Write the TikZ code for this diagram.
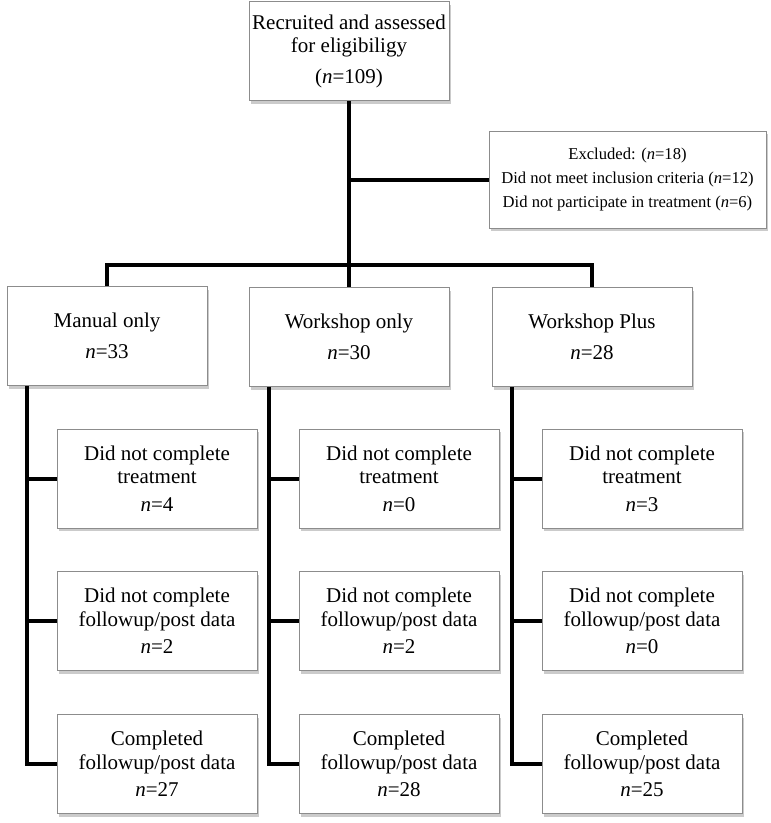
\documentclass[tikz,border=0pt]{standalone}
\usepackage{fontspec}
\setmainfont{Liberation Serif}
\usetikzlibrary{shadows}

\tikzset{
  box/.style={draw=black!45,line width=0.8pt,fill=white,align=center,
    minimum width=200pt,minimum height=99pt,inner sep=2pt,
    drop shadow={shadow xshift=1.5pt,shadow yshift=-3pt,opacity=0.45,fill=black!45},
    font=\fontsize{21}{23.5}\selectfont},
  link/.style={line width=4pt,black},
}

\begin{document}
\begin{tikzpicture}[x=1pt,y=-1pt]
\useasboundingbox (0,0) rectangle (771,823);
% enrolment
\node[box] (top) at (349,51) {Recruited and assessed\\for eligibiligy\\[7pt](\textit{n}=109)};
\node[box,minimum width=277pt,minimum height=97pt,font=\fontsize{16.6}{24}\selectfont] (excl) at (627.5,179.5)
  {Excluded: (\textit{n}=18)\\Did not meet inclusion criteria (\textit{n}=12)\\Did not participate in treatment (\textit{n}=6)};
% groups
\node[box] (man) at (107,336) {Manual only\\[7pt]\textit{n}=33};
\node[box] (wks) at (349,337) {Workshop only\\[7pt]\textit{n}=30};
\node[box] (plus) at (592,337) {Workshop Plus\\[7pt]\textit{n}=28};
% outcomes
\node[box] (man1) at (157,478.5) {Did not complete\\treatment\\[4pt]\textit{n}=4};
\node[box] (man2) at (157,621) {Did not complete\\followup/post data\\[4pt]\textit{n}=2};
\node[box] (man3) at (157,764) {Completed\\followup/post data\\[4pt]\textit{n}=27};
\node[box] (wks1) at (399,478.5) {Did not complete\\treatment\\[4pt]\textit{n}=0};
\node[box] (wks2) at (399,621) {Did not complete\\followup/post data\\[4pt]\textit{n}=2};
\node[box] (wks3) at (399,764) {Completed\\followup/post data\\[4pt]\textit{n}=28};
\node[box] (plus1) at (642,478.5) {Did not complete\\treatment\\[4pt]\textit{n}=3};
\node[box] (plus2) at (642,621) {Did not complete\\followup/post data\\[4pt]\textit{n}=0};
\node[box] (plus3) at (642,764) {Completed\\followup/post data\\[4pt]\textit{n}=25};

% connectors
\coordinate (bar) at (349,265);
\draw[link] (top.south) -- (bar);
\draw[link] (top.south |- excl.west) -- (excl.west);
\draw[link] (man.north) |- (bar) -| (plus.north);
\draw[link] (bar) -- (wks.north);
\foreach \g in {man,wks,plus}{
  \draw[link] ([xshift=20pt]\g.south west) |- (\g3.west);
  \draw[link] ([xshift=20pt]\g.south west |- \g1.west) -- (\g1.west);
  \draw[link] ([xshift=20pt]\g.south west |- \g2.west) -- (\g2.west);
}
\end{tikzpicture}
\end{document}
